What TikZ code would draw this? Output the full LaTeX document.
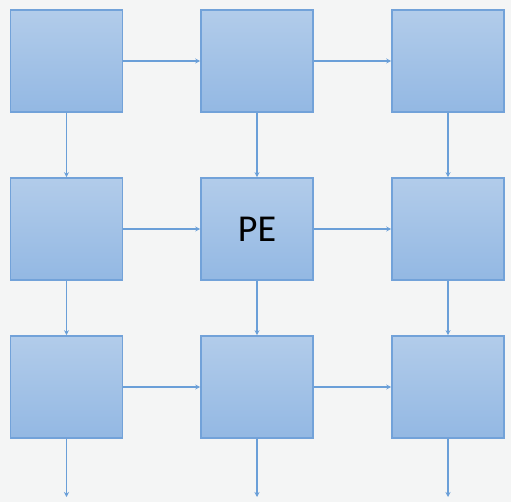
\documentclass[tikz,border=0pt]{standalone}
\usepackage{fontspec}
\setmainfont{Carlito}
\usetikzlibrary{arrows.meta}
\definecolor{bg}{HTML}{F4F5F5}
\definecolor{boxtop}{HTML}{B2CCEA}
\definecolor{boxbot}{HTML}{93B8E3}
\definecolor{boxline}{HTML}{72A2D9}
\definecolor{linkc}{HTML}{6A9FD8}
\tikzset{
  pebox/.style={draw=boxline, line width=1.6pt, top color=boxtop, bottom color=boxbot,
    minimum width=112pt, minimum height=102pt, inner sep=0pt, font=\fontsize{38}{42}\selectfont},
  link/.style={draw=linkc, line width=1.3pt, -{Stealth[length=5pt,width=5pt]}}
}
\begin{document}
\begin{tikzpicture}[x=1pt,y=-1pt]
\fill[bg] (0,0) rectangle (511,502);
\useasboundingbox (0,0) rectangle (511,502);
\node[pebox] (a11) at (66.5,61) {};
\node[pebox] (a12) at (257,61) {};
\node[pebox] (a13) at (448,61) {};
\node[pebox] (a21) at (66.5,229) {};
\node[pebox] (a22) at (257,229) {PE};
\node[pebox] (a23) at (448,229) {};
\node[pebox] (a31) at (66.5,387) {};
\node[pebox] (a32) at (257,387) {};
\node[pebox] (a33) at (448,387) {};
\coordinate (e1) at (66.5,497);
\coordinate (e2) at (257,497);
\coordinate (e3) at (448,497);
\foreach \r in {1,2,3}{
  \draw[link] (a\r1) -- (a\r2);
  \draw[link] (a\r2) -- (a\r3);
}
\foreach \c in {1,2,3}{
  \draw[link] (a1\c) -- (a2\c);
  \draw[link] (a2\c) -- (a3\c);
  \draw[link] (a3\c) -- (e\c);
}
\end{tikzpicture}
\end{document}
